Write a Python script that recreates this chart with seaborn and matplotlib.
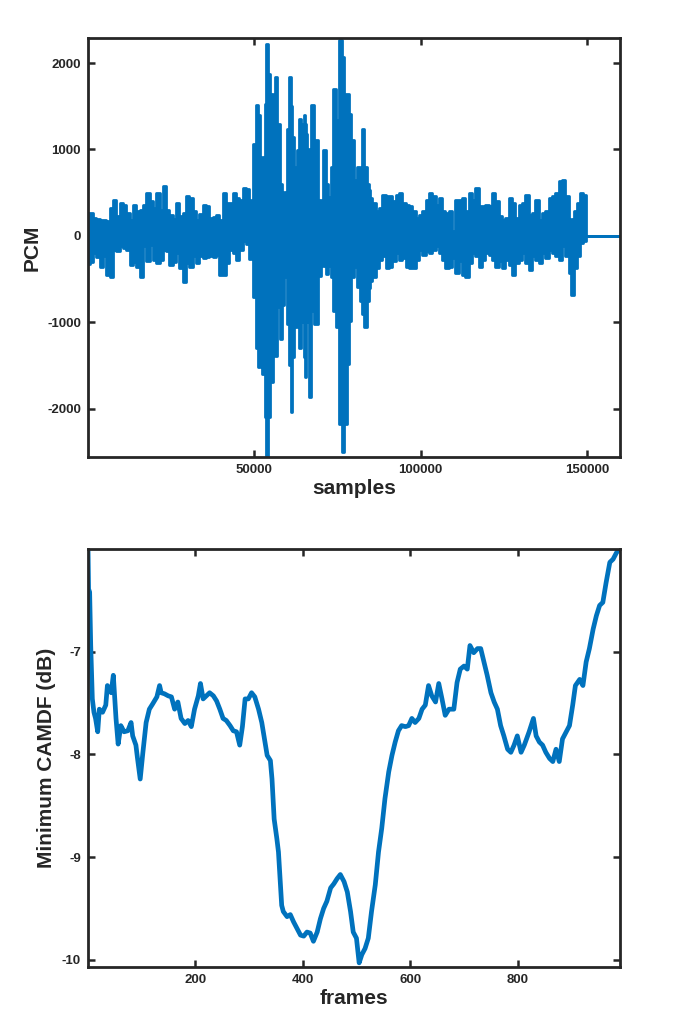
import numpy as np
import matplotlib
matplotlib.use("Agg")
import matplotlib.pyplot as plt
import seaborn as sns

sns.set_style("ticks")
plt.rcParams['font.family'] = ['Liberation Sans', 'DejaVu Sans']
plt.rcParams['axes.unicode_minus'] = False

# ---- top panel: PCM envelope (sample position in thousands, upper/lower peak) ----
pcm_k = [0, 1, 2, 3, 4, 5, 6, 7, 8, 9, 10, 11, 12, 13, 14, 15, 16, 17, 18, 19,
         20, 21, 22, 23, 24, 25, 26, 27, 28, 29, 30, 31, 32, 33, 34, 35, 36, 37, 38, 39,
         40, 41, 42, 43, 44, 45, 46, 47, 48, 48.6, 49.4,
         50.1, 50.8, 51.6, 52.1, 52.8, 53.4, 53.9, 54.4, 55.1, 55.9, 56.6, 57.3, 58.1, 58.6,
         59.4, 60.1, 60.8, 61.1, 61.6, 62.4, 63.1, 63.6, 64.3, 64.6, 65.1, 65.4, 65.9, 66.1,
         66.8, 67.6, 68.6, 69.6, 70.4, 71.1, 71.8, 72.6, 73.4, 74.1, 75.1, 75.9, 76.6, 77.4,
         78.1, 78.8, 79.6, 80.6, 81.4, 82.1, 82.6, 83.4, 84.1, 84.6, 85.1, 86,
         87, 88, 89, 90, 91, 92, 93, 94, 95, 96, 97, 98, 99, 100, 101, 102, 103, 104, 105,
         106, 107, 108, 109, 110, 111, 112, 113, 114, 115, 116, 117, 118, 119, 120, 121,
         122, 123, 124, 125, 126, 127, 128, 129, 130, 131, 132, 133, 134, 135, 136, 137,
         138, 139, 140, 141, 142, 143, 144, 145, 145.7, 146.5, 147.5, 148.5, 149.5,
         150.2, 160]
pcm_hi = [260, 263, 210, 200, 186, 180, 166, 321, 418, 224, 379, 360, 263, 180, 360, 282,
          302, 360, 495, 398, 321, 495, 302, 572, 300, 244, 200, 379, 224, 263, 456, 437,
          282, 180, 250, 360, 340, 205, 220, 244, 180, 495, 379, 380, 495, 437, 420, 553,
          540, 255, 410,
          1066, 1510, 1395, 641, 912, 1530, 2225, 1877, 1646, 1182, 1839, 1298, 600, 410,
          505, 1240, 1839, 1500, 1143, 796, 989, 1356, 1221, 1300, 1395, 1300, 1182, 1000,
          912, 1510, 1105, 410, 255, 989, 603, 448, 796, 1704, 1337, 2264, 2071, 1646,
          1646, 1414, 1105, 641, 796, 564, 1240, 796, 600, 525, 437, 379,
          282, 321, 475, 456, 456, 398, 475, 495, 379, 360, 340, 282, 205, 244, 282, 418,
          495, 456, 360, 437, 282, 263, 282, 60, 418, 418, 437, 282, 495, 418, 553, 340,
          340, 360, 340, 500, 400, 224, 180, 205, 437, 379, 205, 360, 379, 475, 244, 263,
          418, 186, 263, 282, 437, 456, 495, 630, 649, 456, 90, 200, 282, 379, 495, 475,
          0, 0]
pcm_lo = [-330, -300, -200, -240, -355, -239, -452, -471, -162, -170, -123, -140, -160,
          -336, -300, -355, -471, -123, -297, -104, -278, -316, -280, -162, -170, -336,
          -300, -200, -374, -529, -316, -355, -239, -316, -239, -260, -250, -239, -240,
          -220, -452, -452, -316, -162, -200, -278, -162, -60, -100, -267, -150,
          -711, -1300, -1522, -1020, -1600, -2100, -2546, -2101, -1696, -749, -1387, -827,
          -1194, -800, -479, -1020, -1500, -2043, -1400, -1058, -962, -1300, -1000, -904,
          -1400, -1638, -1000, -827, -1870, -865, -1020, -460, -286, -350, -440, -350,
          -479, -865, -1058, -2179, -2507, -2179, -1483, -981, -479, -363, -595, -750,
          -904, -1058, -749, -600, -518, -471,
          -374, -278, -239, -374, -355, -297, -201, -278, -259, -355, -374, -374, -278,
          -162, -220, -180, -201, -162, -123, -201, -278, -374, -355, -259, -432, -297,
          -452, -471, -316, -201, -239, -355, -278, -201, -220, -278, -355, -297, -374,
          -278, -336, -452, -316, -278, -201, -316, -394, -239, -278, -316, -201, -259,
          -162, -201, -239, -278, -123, -239, -432, -684, -374, -239, -85, -60,
          0, 0]

# ---- bottom panel: minimum CAMDF (dB) per frame ----
frames = [1, 2, 4, 6, 9, 12, 15, 19, 22, 28, 34, 37, 44, 48, 53, 57, 62, 68, 75, 81, 84,
          90, 93, 98, 103, 109, 115, 121, 129, 134, 137, 143, 150, 156, 162, 168, 174, 181,
          187, 193, 199, 206, 210, 215, 221, 227, 234, 240, 246, 252, 258, 265, 271, 277,
          283, 288, 293, 299, 305, 311, 318, 324, 330, 334, 340, 343, 347, 352, 355, 358,
          361, 364, 371, 377, 383, 389, 396, 402, 408, 414, 420, 427, 433, 439, 445, 452,
          458, 464, 470, 477, 483, 489, 494, 500, 505, 510, 516, 522, 528, 535, 541, 547,
          553, 560, 566, 572, 578, 584, 591, 597, 603, 609, 616, 622, 628, 634, 640, 647,
          653, 659, 665, 672, 681, 687, 693, 700, 706, 711, 718, 725, 731, 737, 743, 750,
          756, 762, 768, 774, 781, 787, 793, 799, 806, 812, 821, 829, 834, 840, 846, 852,
          859, 865, 871, 877, 883, 890, 896, 902, 907, 915, 921, 927, 933, 940, 946, 952,
          958, 964, 971, 977, 983, 988]
camdf = [-6.0, -6.39, -6.42, -6.94, -7.46, -7.59, -7.65, -7.78, -7.56, -7.59, -7.52, -7.33,
         -7.40, -7.23, -7.65, -7.90, -7.72, -7.78, -7.77, -7.69, -7.82, -7.91, -8.04, -8.24,
         -7.98, -7.69, -7.56, -7.51, -7.44, -7.33, -7.40, -7.41, -7.43, -7.44, -7.56, -7.49,
         -7.65, -7.70, -7.67, -7.73, -7.56, -7.43, -7.31, -7.46, -7.43, -7.40, -7.43, -7.48,
         -7.56, -7.65, -7.67, -7.72, -7.77, -7.78, -7.91, -7.73, -7.46, -7.46, -7.40, -7.44,
         -7.56, -7.69, -7.88, -8.01, -8.06, -8.24, -8.63, -8.82, -8.95, -9.21, -9.47, -9.53,
         -9.58, -9.56, -9.63, -9.69, -9.76, -9.77, -9.73, -9.74, -9.82, -9.73, -9.60, -9.50,
         -9.43, -9.30, -9.26, -9.21, -9.17, -9.24, -9.34, -9.53, -9.73, -9.79, -10.03, -9.95,
         -9.89, -9.79, -9.53, -9.27, -8.95, -8.72, -8.43, -8.17, -8.01, -7.88, -7.77, -7.72,
         -7.73, -7.72, -7.65, -7.69, -7.65, -7.56, -7.52, -7.33, -7.43, -7.49, -7.31, -7.46,
         -7.62, -7.56, -7.56, -7.30, -7.17, -7.14, -7.17, -6.94, -7.01, -6.97, -6.97, -7.10,
         -7.23, -7.40, -7.49, -7.56, -7.72, -7.82, -7.95, -7.98, -7.91, -7.82, -7.98, -7.91,
         -7.78, -7.65, -7.82, -7.88, -7.91, -7.98, -8.04, -8.07, -7.95, -8.07, -7.85, -7.78,
         -7.72, -7.52, -7.33, -7.27, -7.33, -7.10, -6.97, -6.78, -6.65, -6.55, -6.52, -6.33,
         -6.13, -6.10, -6.04, -6.00]

blue = '#0072BD'
dark = '#262626'

fig = plt.figure(figsize=(6.84, 10.24), dpi=100)
ax1 = fig.add_axes([0.1287, 0.5537, 0.7778, 0.4092])
ax2 = fig.add_axes([0.1287, 0.0557, 0.7778, 0.4082])

samples = np.array(pcm_k) * 1000.0
ax1.fill_between(samples, pcm_lo, pcm_hi, step='mid', facecolor=blue,
                 edgecolor=blue, linewidth=2.0)
ax1.set_xlim(0, 160000)
ax1.set_ylim(-2560, 2290)
ax1.set_xticks([50000, 100000, 150000])
ax1.set_yticks([-2000, -1000, 0, 1000, 2000])
ax1.set_xlabel('samples', fontsize=15, fontweight='bold', color=dark, labelpad=2)
ax1.set_ylabel('PCM', fontsize=15, fontweight='bold', color=dark, labelpad=4)

sns.lineplot(x=frames, y=camdf, ax=ax2, color=blue, linewidth=3.4)
ax2.set_xlim(1, 990)
ax2.set_ylim(-10.07, -6.0)
ax2.set_xticks([200, 400, 600, 800])
ax2.set_yticks([-10, -9, -8, -7])
ax2.set_xlabel('frames', fontsize=15, fontweight='bold', color=dark, labelpad=2)
ax2.set_ylabel('Minimum CAMDF (dB)', fontsize=15, fontweight='bold', color=dark, labelpad=4)

for ax in (ax1, ax2):
    for s in ax.spines.values():
        s.set_linewidth(2.0)
        s.set_color(dark)
        s.set_visible(True)
    ax.tick_params(direction='in', top=True, right=True, length=5, width=1.8,
                   colors=dark, labelsize=9.5, pad=5)
    for lab in ax.get_xticklabels() + ax.get_yticklabels():
        lab.set_fontweight('bold')

fig.savefig('out.png', dpi=100)
